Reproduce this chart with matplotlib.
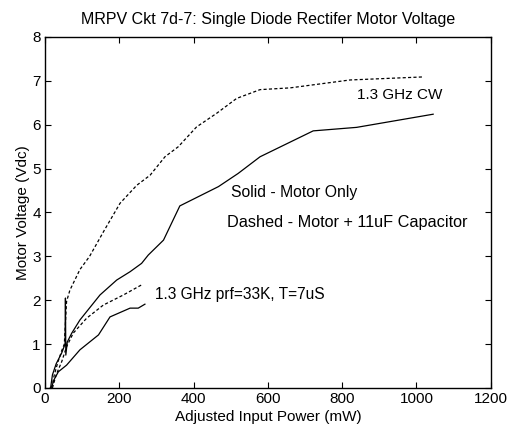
import matplotlib.pyplot as plt

plt.rcParams['font.family'] = ['Liberation Sans', 'DejaVu Sans']

# 1.3 GHz CW, motor only (solid)
cw_solid_x = [15, 20, 30, 45, 54, 55, 56, 60, 72, 94, 148, 193, 229, 260, 278, 319, 363, 467, 520, 579, 722, 839, 1045]
cw_solid_y = [0, 0.3, 0.55, 0.8, 1.0, 2.05, 0.75, 1.05, 1.25, 1.55, 2.12, 2.46, 2.65, 2.84, 3.03, 3.37, 4.15, 4.59, 4.89, 5.27, 5.86, 5.94, 6.24]

# 1.3 GHz CW, motor + capacitor (dashed)
cw_dash_x = [18, 25, 35, 45, 52, 58, 67, 94, 120, 160, 202, 247, 283, 323, 359, 408, 462, 516, 579, 660, 821, 1019]
cw_dash_y = [0, 0.3, 0.6, 0.85, 1.0, 1.97, 2.23, 2.70, 3.0, 3.6, 4.21, 4.62, 4.85, 5.27, 5.50, 5.95, 6.26, 6.60, 6.80, 6.84, 7.02, 7.09]

# 1.3 GHz pulsed, motor + capacitor (dashed)
pl_dash_x = [20, 30, 45, 58, 76, 112, 157, 211, 260]
pl_dash_y = [0, 0.3, 0.6, 0.94, 1.25, 1.59, 1.89, 2.12, 2.35]

# 1.3 GHz pulsed, motor only (solid)
pl_solid_x = [14, 18, 25, 36, 58, 94, 144, 175, 229, 251, 269]
pl_solid_y = [0, 0.03, 0.2, 0.37, 0.52, 0.87, 1.21, 1.62, 1.82, 1.82, 1.91]

fig = plt.figure(figsize=(5.08, 4.30), dpi=100)
ax = fig.add_axes([0.0886, 0.0977, 0.8774, 0.8163])

lw = 0.9
dash = (0, (2.5, 1.8))
ax.plot(cw_solid_x, cw_solid_y, color='black', lw=lw)
ax.plot(cw_dash_x, cw_dash_y, color='black', lw=lw, linestyle=dash)
ax.plot(pl_dash_x, pl_dash_y, color='black', lw=lw, linestyle=dash)
ax.plot(pl_solid_x, pl_solid_y, color='black', lw=lw)

fs = 11
ax.text(840, 6.67, '1.3 GHz CW', fontsize=fs, va='center')
ax.text(500, 4.45, 'Solid - Motor Only', fontsize=11.3, va='center')
ax.text(489, 3.77, 'Dashed - Motor + 11uF Capacitor', fontsize=11.7, va='center')
ax.text(296, 2.12, '1.3 GHz prf=33K, T=7uS', fontsize=11.2, va='center')

ax.set_xlim(0, 1200)
ax.set_ylim(0, 8)
ax.set_xticks(range(0, 1201, 200))
ax.set_yticks(range(0, 9))
ax.tick_params(direction='in', top=True, right=True, labelsize=fs, length=4, width=0.8, pad=3)
for s in ax.spines.values():
    s.set_linewidth(1.0)

ax.set_title('MRPV Ckt 7d-7: Single Diode Rectifer Motor Voltage', fontsize=11.5, pad=9)
ax.set_xlabel('Adjusted Input Power (mW)', fontsize=fs, labelpad=3)
ax.set_ylabel('Motor Voltage (Vdc)', fontsize=fs, labelpad=2)

fig.savefig('out.png', dpi=100)
